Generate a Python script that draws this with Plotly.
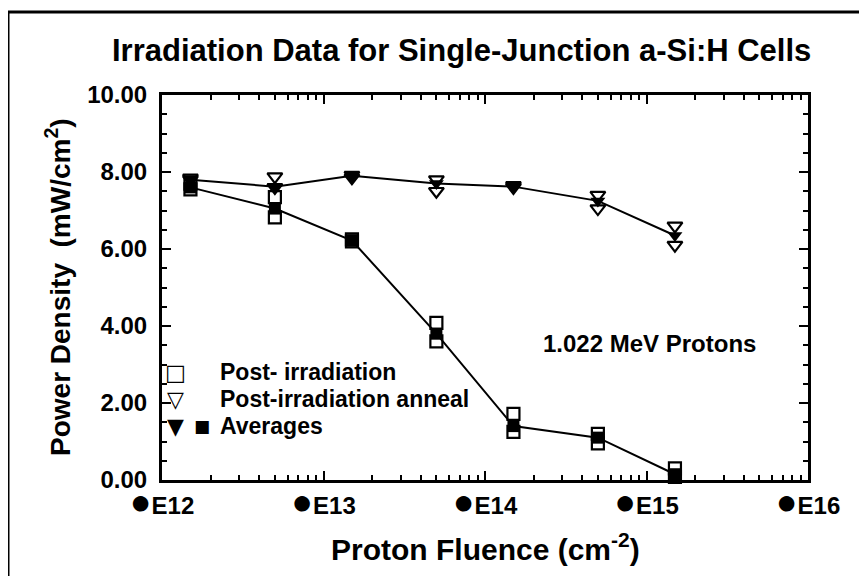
import plotly.graph_objects as go

# ---- data ----
fluence = [1.5e12, 5e12, 1.5e13, 5e13, 1.5e14, 5e14, 1.5e15]
post_irr_cell1 = [7.70, 7.35, 6.25, 4.08, 1.72, 1.20, 0.30]
post_irr_cell2 = [7.55, 6.82, 6.20, 3.60, 1.25, 0.95, 0.08]
anneal_cell1 = [7.85, 7.88, 7.92, 7.80, 7.65, 7.40, 6.60]
anneal_cell2 = [7.80, 7.60, 7.85, 7.50, 7.60, 7.05, 6.10]
avg_post_irr = [7.60, 7.05, 6.22, 3.80, 1.40, 1.10, 0.15]
avg_anneal = [7.80, 7.62, 7.90, 7.70, 7.62, 7.25, 6.35]

x_tickvals = [1e12, 1e13, 1e14, 1e15, 1e16]
x_exponents = ["E12", "E13", "E14", "E15", "E16"]
x_ticktext = ['<span style="font-size:36px">●</span>' + e for e in x_exponents]
x_minor = [k * 10 ** d for d in range(12, 16) for k in range(2, 10)]
y_tickvals = [0, 2, 4, 6, 8, 10]

title_text = "Irradiation Data for Single-Junction a-Si:H Cells"
x_title = "Proton Fluence (cm<sup>-2</sup>)"
y_title = "Power Density  (mW/cm<sup>2</sup>)"
note_text = "1.022 MeV Protons"
legend_labels = ["Post- irradiation", "Post-irradiation anneal", "Averages"]

FONT = "Liberation Sans, Arial, sans-serif"
OFF = 8  # page body margin
L, R, T, B = 162 - OFF, 808 - OFF, 95 - OFF, 480 - OFF
W, H = 867, 576


def px(xp):
    return (xp - OFF - L) / (R - L)


def py(yp):
    return (B - (yp - OFF)) / (B - T)


fig = go.Figure()

open_sq = dict(symbol="square-open", size=12, color="black", line=dict(width=2.2, color="black"))
open_tri = dict(symbol="triangle-down-open", size=13, color="black", line=dict(width=2.2, color="black"))

for ys in (post_irr_cell1, post_irr_cell2):
    fig.add_trace(go.Scatter(x=fluence, y=ys, mode="markers", marker=open_sq,
                             showlegend=False, cliponaxis=False))
for ys in (anneal_cell1, anneal_cell2):
    fig.add_trace(go.Scatter(x=fluence, y=ys, mode="markers", marker=open_tri,
                             showlegend=False, cliponaxis=False))

fig.add_trace(go.Scatter(x=fluence, y=avg_anneal, mode="lines+markers",
                         line=dict(color="black", width=2),
                         marker=dict(symbol="triangle-down", size=13, color="black"),
                         showlegend=False, cliponaxis=False))
fig.add_trace(go.Scatter(x=fluence, y=avg_post_irr, mode="lines+markers",
                         line=dict(color="black", width=2),
                         marker=dict(symbol="square", size=12, color="black"),
                         showlegend=False, cliponaxis=False))

fig.update_xaxes(
    type="log", range=[12, 16],
    tickmode="array", tickvals=x_tickvals, ticktext=x_ticktext,
    ticks="inside", ticklen=9, tickwidth=2, tickcolor="black",
    minor=dict(tickmode="array", tickvals=x_minor, ticks="inside", ticklen=5,
               tickwidth=1.5, tickcolor="black", showgrid=False),
    showline=True, linecolor="black", linewidth=3, mirror="ticks",
    showgrid=False, zeroline=False,
    tickfont=dict(family=FONT, size=24, color="black", weight="bold"),
    ticklabelstandoff=2,
)
fig.update_yaxes(
    range=[0, 10], tickmode="array", tickvals=y_tickvals, tickformat=".2f",
    ticks="inside", ticklen=9, tickwidth=2, tickcolor="black",
    minor=dict(dtick=0.5, ticks="inside", ticklen=5, tickwidth=1.5,
               tickcolor="black", showgrid=False),
    showline=True, linecolor="black", linewidth=3, mirror="ticks",
    showgrid=False, zeroline=False,
    tickfont=dict(family=FONT, size=24, color="black", weight="bold"),
    ticklabelstandoff=7,
)

ann = []
ann.append(dict(text=title_text, x=px(461), y=py(51), xref="paper", yref="paper",
                showarrow=False, xanchor="center", yanchor="middle",
                font=dict(family=FONT, size=31, color="black", weight="bold")))
ann.append(dict(text=x_title, x=px(485), y=py(547), xref="paper", yref="paper",
                showarrow=False, xanchor="center", yanchor="middle",
                font=dict(family=FONT, size=30, color="black", weight="bold")))
ann.append(dict(text=y_title, x=px(58), y=py(287), xref="paper", yref="paper",
                showarrow=False, xanchor="center", yanchor="middle", textangle=-90,
                font=dict(family=FONT, size=28, color="black", weight="bold")))
ann.append(dict(text=note_text, x=px(649), y=py(343), xref="paper", yref="paper",
                showarrow=False, xanchor="center", yanchor="middle",
                font=dict(family=FONT, size=24, color="black", weight="bold")))

leg_y = [372, 399, 426]
for lab, yy in zip(legend_labels, leg_y):
    ann.append(dict(text=lab, x=px(218), y=py(yy), xref="paper", yref="paper",
                    showarrow=False, xanchor="left", yanchor="middle",
                    font=dict(family=FONT, size=23, color="black", weight="bold")))
sym_font = dict(family="DejaVu Sans", size=22, color="black")
ann.append(dict(text="□", x=px(175), y=py(372), xref="paper", yref="paper",
                showarrow=False, xanchor="center", yanchor="middle", font=sym_font))
ann.append(dict(text="▽", x=px(175), y=py(399), xref="paper", yref="paper",
                showarrow=False, xanchor="center", yanchor="middle", font=sym_font))
ann.append(dict(text="▼", x=px(175), y=py(426), xref="paper", yref="paper",
                showarrow=False, xanchor="center", yanchor="middle", font=sym_font))
ann.append(dict(text="■", x=px(202), y=py(426), xref="paper", yref="paper",
                showarrow=False, xanchor="center", yanchor="middle",
                font=dict(family="DejaVu Sans", size=17, color="black")))

shapes = [
    dict(type="line", xref="paper", yref="paper", x0=px(8), x1=px(8), y0=py(12), y1=py(600),
         line=dict(color="black", width=3)),
    dict(type="line", xref="paper", yref="paper", x0=px(8), x1=px(890), y0=py(12), y1=py(12),
         line=dict(color="black", width=3)),
]

fig.update_layout(
    width=W, height=H,
    margin=dict(l=L, r=W - R, t=T, b=H - B, pad=0),
    paper_bgcolor="white", plot_bgcolor="white",
    annotations=ann, shapes=shapes, showlegend=False,
)

fig.write_html("out.html")
